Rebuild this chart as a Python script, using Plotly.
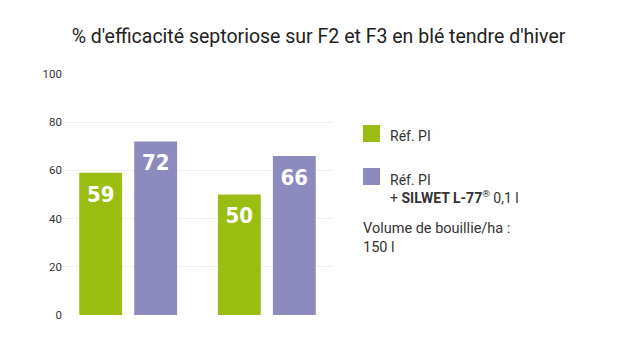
import plotly.graph_objects as go

categories = ["F2", "F3"]
ref_pi = [59, 50]
ref_pi_silwet = [72, 66]
y_ticks = [0, 20, 40, 60, 80, 100]

title_text = "% d'efficacité septoriose sur F2 et F3 en blé tendre d'hiver"
legend_1 = "Réf. PI"
legend_2 = "Réf. PI<br>+ <b>SILWET L-77</b><sup>®</sup> 0,1 l"
note_text = "Volume de bouillie/ha :<br>150 l"

GREEN = "#9bbd12"
PURPLE = "#8d8abf"
TXT = "#333333"
FONT = "Roboto, 'Open Sans', sans-serif"
BAR_FONT = "'DejaVu Sans Condensed', 'DejaVu Sans', sans-serif"

fig = go.Figure()
series = [(legend_1, ref_pi, GREEN, "a"), (legend_2, ref_pi_silwet, PURPLE, "b")]
for name, vals, col, grp in series:
    fig.add_trace(go.Bar(
        x=categories, y=vals, name=name, offsetgroup=grp,
        marker=dict(color=col, line=dict(width=0)),
        showlegend=False, hoverinfo="skip",
    ))
for name, vals, col, grp in series:
    fig.add_trace(go.Scatter(
        x=categories, y=vals, offsetgroup=grp, mode="markers+text",
        marker=dict(size=18, opacity=0),
        text=[str(v) for v in vals], textposition="bottom center",
        textfont=dict(family=BAR_FONT, size=22, color="white", weight="bold"),
        showlegend=False, hoverinfo="skip",
    ))

fig.update_layout(
    width=637, height=337,
    margin=dict(l=63, r=305, t=74, b=22, pad=0),
    paper_bgcolor="white", plot_bgcolor="white",
    barmode="group", bargap=0.207, bargroupgap=0.22,
    scattermode="group", scattergap=0.207,
    font=dict(family=FONT, color=TXT),
    title=dict(text=title_text, x=0.5, xanchor="center", y=0.892, yanchor="middle",
               font=dict(family=FONT, size=19.5, color="#222222")),
    xaxis=dict(range=[-0.47, 1.47], showticklabels=False, showgrid=False,
               zeroline=False, showline=False, ticks=""),
    yaxis=dict(range=[0, 100], tickvals=y_ticks, showgrid=True, gridcolor="#eeeeee",
               gridwidth=1, zeroline=False, showline=False, ticks="",
               tickfont=dict(family=FONT, size=11.5, color=TXT)),
)

# custom legend
sq = 17
items = [(GREEN, 125), (PURPLE, 168)]
for col, ytop in items:
    fig.add_shape(type="rect", xref="paper", yref="paper",
                  x0=(363 - 63) / 269, x1=(363 + sq - 63) / 269,
                  y0=(315 - ytop) / 241, y1=(315 - ytop - sq) / 241,
                  fillcolor=col, line=dict(width=0))
fig.add_annotation(xref="paper", yref="paper", x=(388 - 63) / 269, y=(315 - 136) / 241,
                   xanchor="left", yanchor="middle", text=legend_1, showarrow=False,
                   align="left", font=dict(family=FONT, size=14, color=TXT))
fig.add_annotation(xref="paper", yref="paper", x=(388 - 63) / 269, y=(315 - 170) / 241,
                   xanchor="left", yanchor="top", text=legend_2, showarrow=False,
                   align="left", font=dict(family=FONT, size=14, color=TXT))
fig.add_annotation(xref="paper", yref="paper", x=(361 - 63) / 269, y=(315 - 218) / 241,
                   xanchor="left", yanchor="top", text=note_text, showarrow=False,
                   align="left", font=dict(family=FONT, size=14.5, color=TXT))

fig.write_html("out.html")
